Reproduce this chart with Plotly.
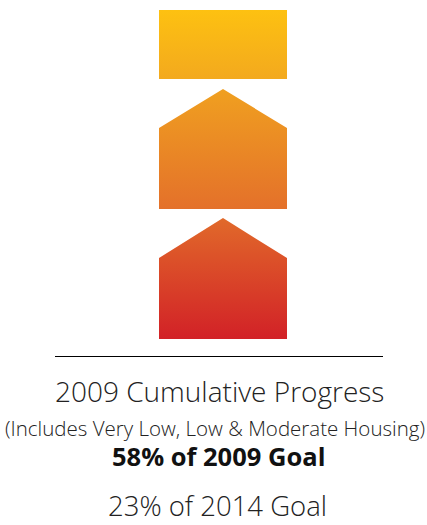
import plotly.graph_objects as go

# Shape outlines (pixel-like data coordinates, y grows downward)
rect_x = [159, 287, 287, 159, 159]
rect_y = [10, 10, 79, 79, 10]
house1_x = [159, 223, 287, 287, 159, 159]
house1_y = [128, 89, 128, 209, 209, 128]
house2_x = [159, 223, 287, 287, 159, 159]
house2_y = [258, 218, 258, 339, 339, 258]

gradient_colors = [
    [0.0, "#FDC111"],
    [0.21, "#F3A91E"],
    [0.24, "#F0A020"],
    [0.60, "#E4712A"],
    [0.63, "#E16A2A"],
    [1.0, "#D22127"],
]

title_line = "2009 Cumulative Progress"
subtitle_line = "(Includes Very Low, Low & Moderate Housing)"
goal_2009 = "58% of 2009 Goal"
goal_2014 = "23% of 2014 Goal"

xs = rect_x + [None] + house1_x + [None] + house2_x
ys = rect_y + [None] + house1_y + [None] + house2_y

fig = go.Figure()
fig.add_trace(go.Scatter(
    x=xs, y=ys, mode="lines", fill="toself",
    line=dict(width=0, color="rgba(0,0,0,0)"),
    fillgradient=dict(type="vertical", colorscale=gradient_colors, start=10, stop=339),
    hoverinfo="skip", showlegend=False,
))

fig.add_shape(type="line", x0=55, x1=383, y0=356.5, y1=356.5,
              line=dict(color="#000000", width=1), xref="x", yref="y")

fnt = "Open Sans"
fig.add_annotation(x=219, y=391, text=title_line, showarrow=False,
                   font=dict(family=fnt, size=28, color="#222222", weight=300))
fig.add_annotation(x=215, y=428, text=subtitle_line, showarrow=False,
                   font=dict(family=fnt, size=20.5, color="#222222", weight=300))
fig.add_annotation(x=218, y=456, text="<b>" + goal_2009 + "</b>", showarrow=False,
                   font=dict(family=fnt, size=25.5, color="#111111"))
fig.add_annotation(x=217, y=505, text=goal_2014, showarrow=False,
                   font=dict(family=fnt, size=27.5, color="#222222", weight=300))

fig.update_xaxes(range=[0, 427], visible=False, fixedrange=True)
fig.update_yaxes(range=[525, 0], visible=False, fixedrange=True)
fig.update_layout(width=427, height=525, autosize=False,
                  margin=dict(l=0, r=0, t=0, b=0),
                  paper_bgcolor="white", plot_bgcolor="white")

fig.write_html("out.html", config={"displayModeBar": False},
               post_script="document.body.style.margin='0';document.body.style.overflow='hidden';")
